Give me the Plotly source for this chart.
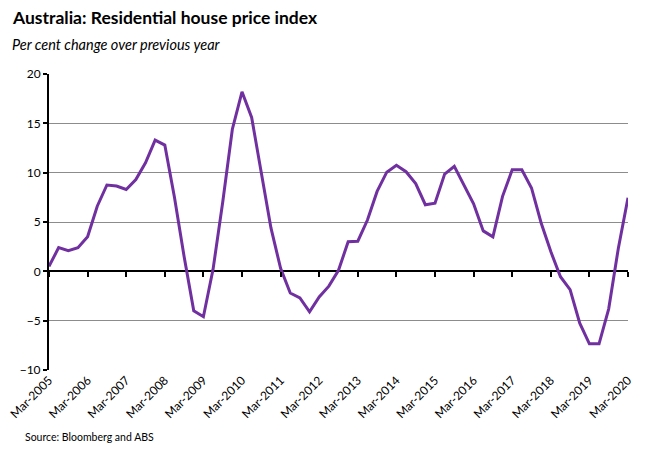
import plotly.graph_objects as go

months = ["Mar", "Jun", "Sep", "Dec"]
quarters = [f"{m}-{y}" for y in range(2005, 2021) for m in months][:61]

hpi_change = [
    0.5, 2.4, 2.1, 2.4, 3.5, 6.6, 8.75, 8.65, 8.3, 9.3, 11.0, 13.3,
    12.8, 7.5, 1.5, -4.0, -4.6, 0.2, 7.0, 14.4, 18.2, 15.6, 10.0, 4.4,
    0.3, -2.2, -2.7, -4.1, -2.6, -1.5, 0.1, 3.0, 3.05, 5.2, 8.1, 10.05,
    10.75, 10.1, 8.9, 6.75, 6.9, 9.85, 10.65, 8.8, 6.85, 4.1, 3.5, 7.6,
    10.3, 10.3, 8.45, 4.9, 2.0, -0.55, -1.85, -5.25, -7.35, -7.35, -3.8, 2.35, 7.45,
]

year_ticks = quarters[::4]
y_ticks = [-10, -5, 0, 5, 10, 15, 20]
y_range = [-10, 20]

# page body has an 8px margin; figure is offset by it
OFF = 8
W, H = 650 - OFF, 455 - OFF
L, R, T, B = 49 - OFF, 22, 74 - OFF, 85
pw, ph = W - L - R, H - T - B


def px_x(p):
    return (p - OFF - L) / pw


def px_y(p):
    return 1 - (p - OFF - T) / ph


idx = list(range(len(quarters)))

fig = go.Figure()
# invisible helper trace so the zero-line tick axis (x2) is drawn
fig.add_trace(go.Scatter(
    x=idx, y=hpi_change, xaxis="x2", mode="lines",
    line=dict(color="rgba(0,0,0,0)", width=0), hoverinfo="skip", showlegend=False,
))
fig.add_trace(go.Scatter(
    x=quarters, y=hpi_change, mode="lines",
    line=dict(color="#7030A0", width=3), hoverinfo="x+y", showlegend=False,
))

font = "Lato"
zero_pos = (0 - y_range[0]) / (y_range[1] - y_range[0])
fig.update_layout(
    width=W, height=H,
    margin=dict(l=L, r=R, t=T, b=B, autoexpand=False),
    paper_bgcolor="white", plot_bgcolor="white",
    font=dict(family=font, size=12, color="black"),
    xaxis=dict(
        type="category", range=[0, len(quarters) - 1], tickmode="array",
        tickvals=year_ticks, ticktext=year_ticks, tickangle=-45,
        showgrid=False, showline=False, ticks="", zeroline=False,
        automargin=False, tickfont=dict(size=12, family=font),
    ),
    xaxis2=dict(
        overlaying="x", anchor="free", position=zero_pos, side="bottom",
        range=[0, len(quarters) - 1], tickmode="array",
        tickvals=[quarters.index(q) for q in year_ticks],
        showticklabels=False, ticks="outside", ticklen=5, tickwidth=2,
        tickcolor="black", showgrid=False, zeroline=False, showline=False,
        automargin=False,
    ),
    yaxis=dict(
        range=y_range, tickvals=y_ticks, showgrid=True,
        gridcolor="#8c8c8c", gridwidth=1,
        zeroline=True, zerolinecolor="black", zerolinewidth=2,
        showline=True, linecolor="black", linewidth=2,
        ticks="outside", ticklen=4, tickcolor="black", tickwidth=1.5,
        automargin=False, tickfont=dict(size=12, family=font),
    ),
    annotations=[
        dict(text="<b>Australia: Residential house price index</b>",
             xref="paper", yref="paper", x=px_x(10), y=px_y(18),
             xanchor="left", yanchor="middle", showarrow=False,
             font=dict(size=17.5, family=font)),
        dict(text="<i>Per cent change over previous year</i>",
             xref="paper", yref="paper", x=px_x(10), y=px_y(45),
             xanchor="left", yanchor="middle", showarrow=False,
             font=dict(size=14.5, family=font)),
        dict(text="Source: Bloomberg and ABS",
             xref="paper", yref="paper", x=px_x(23), y=px_y(437),
             xanchor="left", yanchor="middle", showarrow=False,
             font=dict(size=10.5, family=font)),
    ],
)

fig.write_html("out.html")
